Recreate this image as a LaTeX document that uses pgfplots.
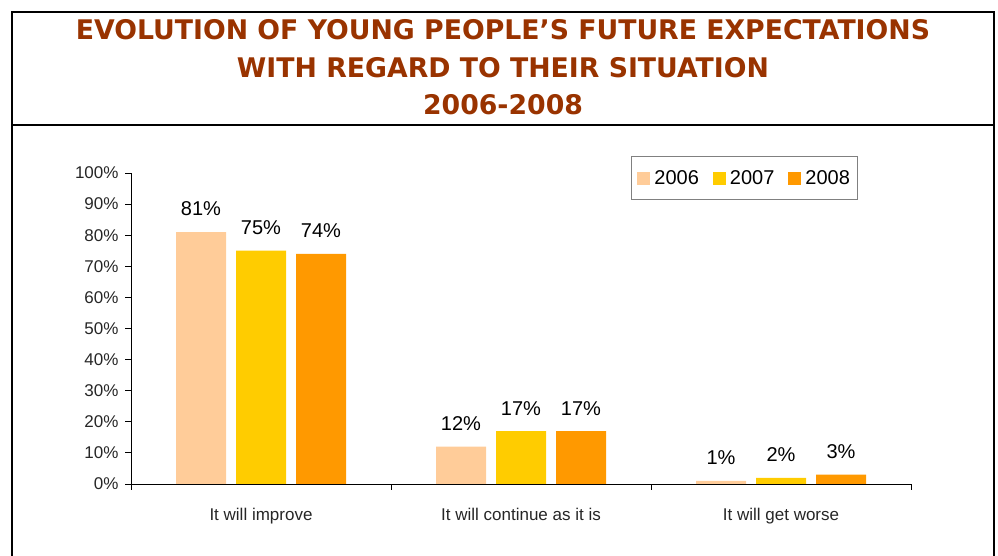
\documentclass[border=0pt]{standalone}
\usepackage{fontspec}
\setmainfont{Liberation Sans}
\newfontfamily\titlefont{DejaVu Sans}
\usepackage{pgfplots}
\pgfplotsset{compat=1.18}
\definecolor{ctitle}{HTML}{993300}
\definecolor{c06}{HTML}{FFCC99}
\definecolor{c07}{HTML}{FFCC00}
\definecolor{c08}{HTML}{FF9900}
\begin{document}
\begin{tikzpicture}[x=1bp,y=1bp]
\useasboundingbox (0,0) rectangle (998,556);
% frame
\draw[line width=1.6bp] (12,0) -- (12,544) -- (994,544) -- (994,0);
\draw[line width=1.6bp] (12,431) -- (994,431);
% title
\node[anchor=base,text=ctitle] at (503,516) {\scalebox{0.99}[1]{\titlefont\bfseries\fontsize{27bp}{32bp}\selectfont EVOLUTION OF YOUNG PEOPLE’S FUTURE EXPECTATIONS}};
\node[anchor=base,text=ctitle] at (503,478) {\scalebox{0.99}[1]{\titlefont\bfseries\fontsize{27bp}{32bp}\selectfont WITH REGARD TO THEIR SITUATION}};
\node[anchor=base,text=ctitle] at (503,441) {\scalebox{0.99}[1]{\titlefont\bfseries\fontsize{27bp}{32bp}\selectfont 2006-2008}};
\begin{axis}[
  at={(131bp,72bp)}, anchor=south west,
  scale only axis, width=780bp, height=311bp,
  ybar=10bp, bar width=50bp,
  xmin=-0.5, xmax=2.5, ymin=0, ymax=100,
  axis lines*=left,
  axis line style={line width=0.8bp, black},
  xtick={0,1,2},
  xticklabels={It will improve, It will continue as it is, It will get worse},
  minor xtick={-0.5,0.5,1.5,2.5},
  major x tick style={draw=none},
  minor x tick style={black, line width=0.8bp},
  ytick={0,10,...,100},
  y tick style={black, line width=0.8bp},
  tick align=outside,
  major tick length=6bp, minor tick length=6bp,
  /pgf/number format/assume math mode=true,
  yticklabel={\pgfmathprintnumber{\tick}\%},
  ticklabel style={font=\fontsize{17bp}{20bp}\selectfont, text=black!85},
  xticklabel style={yshift=-15bp},
  yticklabel style={xshift=-3bp},
  nodes near coords={\pgfmathprintnumber{\pgfplotspointmeta}\%},
  every node near coord/.append style={font=\fontsize{20bp}{24bp}\selectfont, anchor=center, yshift=23bp, text=black},
  legend style={at={(0.641,1.0547)}, anchor=north west, draw=gray, line width=1bp,
    font=\fontsize{20bp}{24bp}\selectfont, legend columns=-1,
    inner xsep=6bp, inner ysep=12bp,
    /tikz/every odd column/.append style={column sep=2bp},
    /tikz/every even column/.append style={column sep=12bp}},
  legend image code/.code={\fill[#1] (0bp,-6.5bp) rectangle (13bp,6.5bp);},
  enlarge x limits=false,
  clip=false,
]
\addplot[fill=c06, draw=none] coordinates {(0,81) (1,12) (2,1)};
\addplot[fill=c07, draw=none] coordinates {(0,75) (1,17) (2,2)};
\addplot[fill=c08, draw=none] coordinates {(0,74) (1,17) (2,3)};
\legend{2006,2007,2008}
\end{axis}
\end{tikzpicture}
\end{document}
